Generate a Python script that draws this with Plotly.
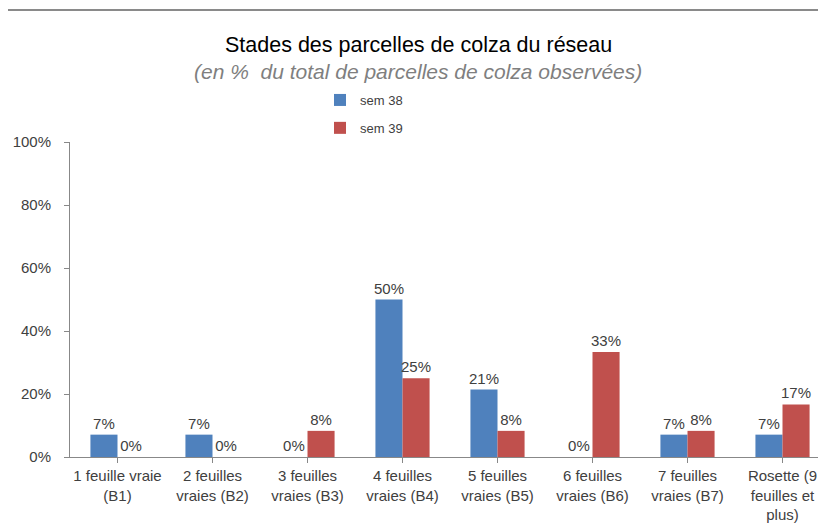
import plotly.graph_objects as go

categories = ["1 feuille vraie<br>(B1)", "2 feuilles<br>vraies (B2)", "3 feuilles<br>vraies (B3)",
              "4 feuilles<br>vraies (B4)", "5 feuilles<br>vraies (B5)", "6 feuilles<br>vraies (B6)",
              "7 feuilles<br>vraies (B7)", "Rosette (9<br>feuilles et<br>plus)"]
sem38 = [7.1, 7.1, 0, 50, 21.4, 0, 7.1, 7.1]
sem39 = [0, 0, 8.3, 25, 8.3, 33.3, 8.3, 16.7]
series_names = ["sem 38", "sem 39"]
yticks = [0, 20, 40, 60, 80, 100]

FONT = "Liberation Sans, Arial, sans-serif"
TXT = "#404040"

# page offset (body margin) and plot area in page pixels
OFF = 8
PL, PR, PT, PB = 70, 826, 142, 457
W, H = 818, 520
ml, mt = PL - OFF, PT - OFF
mb = H - (PB - OFF)
pw, ph = W - ml, PB - PT


def px2paper(x, y):
    return (x - PL) / pw, (PB - y) / ph


fig = go.Figure()
for name, vals, col, grp in [(series_names[0], sem38, "#4F81BD", "a"),
                             (series_names[1], sem39, "#C0504D", "b")]:
    fig.add_trace(go.Bar(
        x=list(range(len(categories))), y=vals, name=name, marker_color=col,
        marker_line_width=0, legendgroup=grp,
        text=[f"{v:.0f}%" for v in vals], textposition="outside", constraintext="none",
        textfont=dict(size=15, color=TXT, family=FONT), cliponaxis=False,
    ))

n = len(categories)
cat_w = 95.0
x_end = -0.5 + pw / cat_w

lx, ly = px2paper(320, 85)
t1x, t1y = px2paper(418, 45)
t2x, t2y = px2paper(418, 72)

fig.update_layout(
    width=W, height=H,
    margin=dict(l=ml, r=0, t=mt, b=mb, pad=0),
    paper_bgcolor="white", plot_bgcolor="white",
    barmode="group", bargap=0.43, bargroupgap=0,
    font=dict(family=FONT, color=TXT, size=15),
    showlegend=True,
    legend=dict(x=lx, y=ly, xanchor="left", yanchor="top",
                font=dict(size=13, color=TXT, family=FONT),
                tracegroupgap=8, itemwidth=30, bgcolor="rgba(0,0,0,0)"),
    xaxis=dict(tickmode="array", tickvals=list(range(n)), ticktext=categories,
               range=[-0.5, x_end], tickson="boundaries", ticks="outside", ticklen=5,
               tickcolor="#888888", showline=True, linecolor="#888888", linewidth=1,
               showgrid=False, zeroline=False, tickfont=dict(size=15, color=TXT)),
    yaxis=dict(range=[0, 100], tickvals=yticks, ticktext=[f"{v}%" for v in yticks],
               ticks="outside", ticklen=5, tickcolor="#888888", showline=True,
               linecolor="#888888", linewidth=1, showgrid=False, zeroline=False,
               ticklabelstandoff=10, tickfont=dict(size=15, color=TXT)),
    annotations=[
        dict(text="Stades des parcelles de colza du réseau", x=t1x, y=t1y, xref="paper", yref="paper",
             xanchor="center", yanchor="middle", showarrow=False,
             font=dict(size=21.5, color="#000000", family=FONT)),
        dict(text="<i>(en %  du total de parcelles de colza observées)</i>", x=t2x, y=t2y,
             xref="paper", yref="paper", xanchor="center", yanchor="middle", showarrow=False,
             font=dict(size=21, color="#7f7f7f", family=FONT)),
    ],
)

# chart border lines (left and top)
bx0, by0 = px2paper(7, 10)
bx1, by1 = px2paper(840, 540)
fig.add_shape(type="line", xref="paper", yref="paper", x0=bx0, x1=bx0, y0=by0, y1=by1,
              line=dict(color="#8a8a8a", width=2))
fig.add_shape(type="line", xref="paper", yref="paper", x0=bx0, x1=bx1, y0=by0, y1=by0,
              line=dict(color="#8a8a8a", width=2))

fig.write_html("out.html")
